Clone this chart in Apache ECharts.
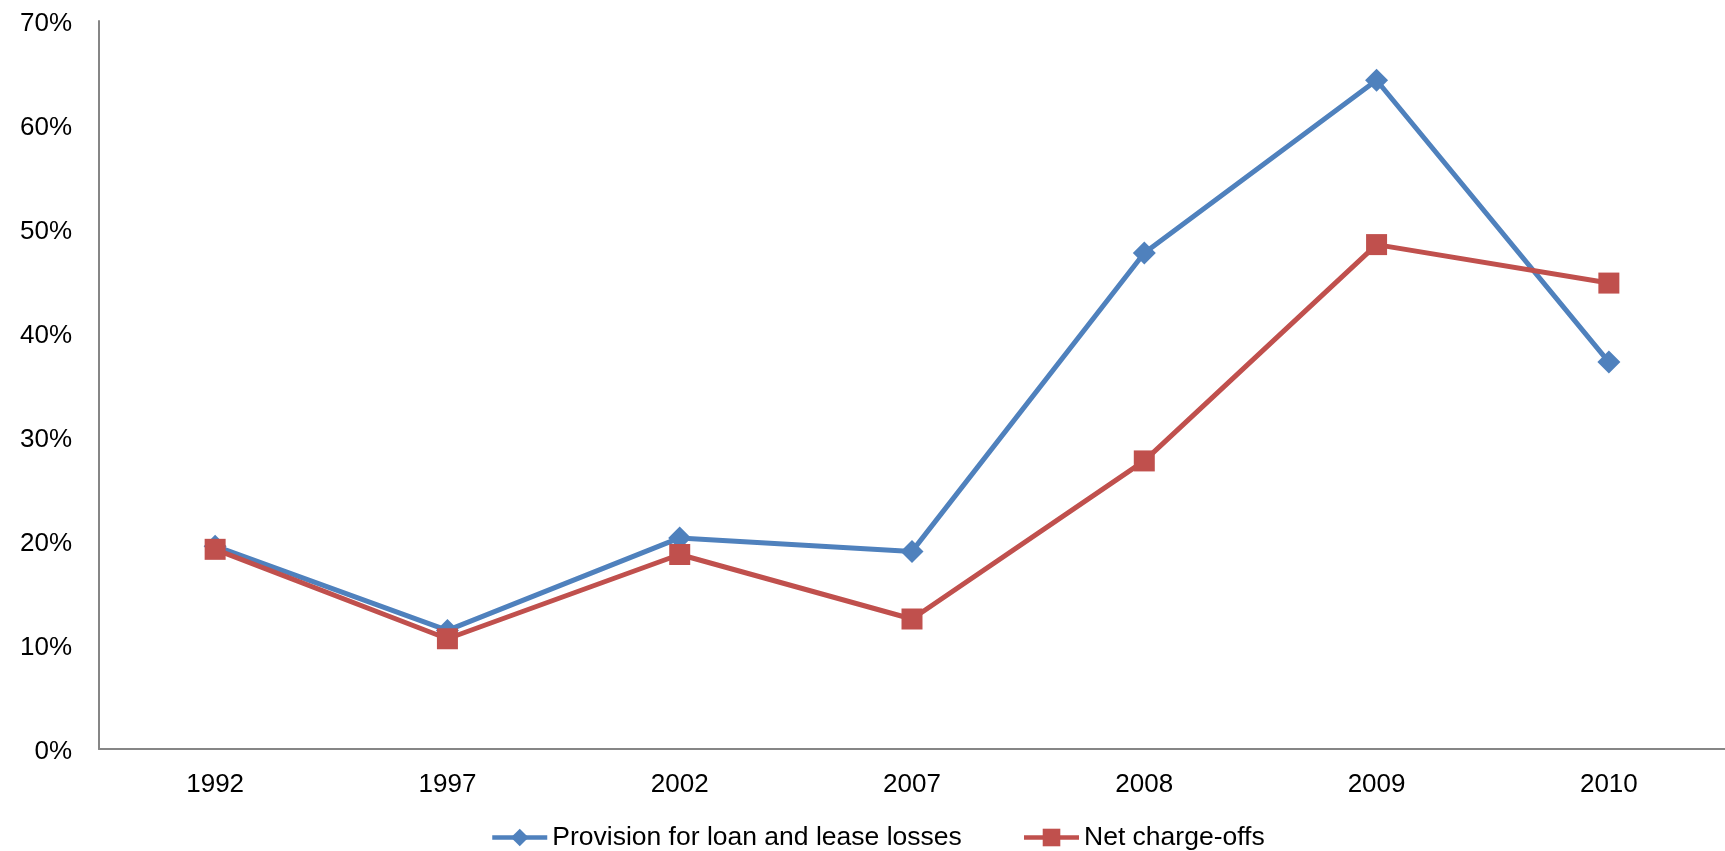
<!DOCTYPE html>
<html>
<head>
<meta charset="utf-8">
<script src="https://cdn.jsdelivr.net/npm/echarts@6/dist/echarts.min.js"></script>
<style>
  html, body { margin: 0; padding: 0; background: #fff; }
  #main { width: 1725px; height: 851px; }
</style>
</head>
<body>
<div id="main"></div>
<script>
const years = ["1992", "1997", "2002", "2007", "2008", "2009", "2010"];
const provision = [19.5, 11.4, 20.3, 19.0, 47.7, 64.3, 37.2];
const chargeOffs = [19.2, 10.6, 18.7, 12.5, 27.7, 48.5, 44.8];

const chart = echarts.init(document.getElementById("main"));
const font = "Liberation Sans, Arial, sans-serif";

chart.setOption({
  animation: false,
  backgroundColor: "#fff",
  grid: { left: 99, right: 0, top: 21, bottom: 102, containLabel: false },
  legend: {
    left: 485,
    top: 819,
    itemWidth: 55,
    itemHeight: 22,
    itemGap: 60,
    lineStyle: { width: 4.5 },
    textStyle: { fontFamily: font, fontSize: 26.5, color: "#000" },
    data: ["Provision for loan and lease losses", "Net charge-offs"]
  },
  xAxis: {
    type: "category",
    data: years,
    boundaryGap: true,
    axisLine: { lineStyle: { color: "#868686", width: 2 } },
    axisTick: { show: false },
    axisLabel: { fontFamily: font, fontSize: 26, color: "#000", margin: 23 },
    splitLine: { show: false }
  },
  yAxis: {
    type: "value",
    min: 0,
    max: 70,
    interval: 10,
    axisLine: { show: true, lineStyle: { color: "#868686", width: 2 } },
    axisTick: { show: false },
    axisLabel: {
      fontFamily: font, fontSize: 26, color: "#000", margin: 27,
      verticalAlign: "top",
      lineHeight: 26,
      padding: [-10, 0, 0, 0],
      formatter: v => v + "%"
    },
    splitLine: { show: false }
  },
  series: [
    {
      name: "Provision for loan and lease losses",
      type: "line",
      data: provision,
      symbol: "diamond",
      symbolSize: 23,
      color: "#4F81BD",
      lineStyle: { width: 5, color: "#4F81BD" },
      itemStyle: { color: "#4F81BD" }
    },
    {
      name: "Net charge-offs",
      type: "line",
      data: chargeOffs,
      symbol: "rect",
      symbolSize: 21,
      color: "#C0504D",
      lineStyle: { width: 5, color: "#C0504D" },
      itemStyle: { color: "#C0504D" }
    }
  ]
});
</script>
</body>
</html>
